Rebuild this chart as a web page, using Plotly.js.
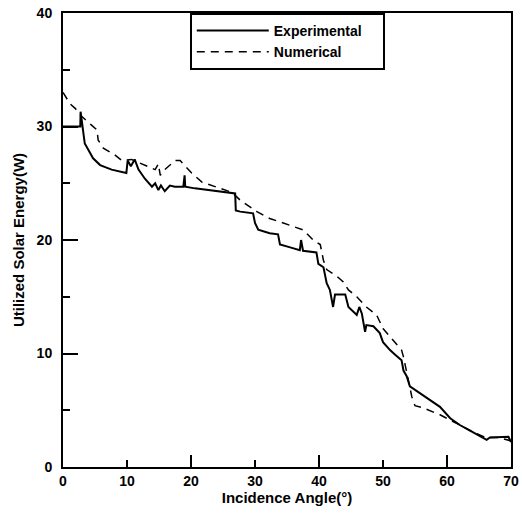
<!DOCTYPE html>
<html>
<head>
<meta charset="utf-8">
<script src="https://cdn.plot.ly/plotly-3.0.1.min.js"></script>
<style>html,body{margin:0;padding:0;background:#fff}#chart{width:522px;height:518px}</style>
</head>
<body>
<div id="chart"></div>
<script>
// Experimental (solid)
const expX = [0, 2.7, 2.75, 3.4, 4.0, 4.7, 5.8, 7.6, 9.9, 10.1, 10.6, 11.2, 11.8, 12.8, 13.9, 14.4, 14.9, 15.3, 15.9, 16.7, 17.5, 18.8, 19.0, 19.1, 20.6, 23.75, 26.9, 27.0, 27.7, 29.7, 30.0, 30.5, 32.3, 33.6, 33.9, 35.5, 37.0, 37.2, 37.5, 39.6, 39.9, 40.7, 40.9, 41.2, 41.7, 42.2, 42.5, 44.1, 44.6, 45.4, 45.9, 46.3, 46.7, 47.2, 47.4, 48.5, 49.5, 50.0, 50.6, 51.1, 51.9, 52.9, 53.2, 53.7, 54.2, 55.8, 57.3, 58.9, 60.5, 62.0, 63.6, 65.2, 66.2, 66.7, 68.3, 69.6, 70.0];
const expY = [30.0, 30.0, 31.3, 28.5, 27.9, 27.2, 26.6, 26.2, 25.9, 27.0, 26.5, 27.1, 26.2, 25.4, 24.7, 25.0, 24.4, 24.8, 24.3, 24.8, 24.7, 24.7, 25.7, 24.7, 24.55, 24.35, 24.1, 22.6, 22.5, 22.35, 21.5, 20.9, 20.6, 20.5, 19.6, 19.35, 19.1, 20.0, 19.05, 18.9, 17.9, 17.6, 16.9, 16.2, 15.6, 14.1, 15.2, 15.2, 14.1, 13.7, 13.4, 14.1, 13.5, 11.9, 12.5, 12.4, 11.8, 11.0, 10.6, 10.3, 9.9, 9.4, 8.5, 8.0, 7.1, 6.5, 5.9, 5.3, 4.3, 3.7, 3.2, 2.7, 2.4, 2.6, 2.67, 2.67, 2.2];
// Numerical (dashed)
const numX = [0, 1.1, 1.9, 2.9, 4.5, 5.3, 5.5, 6.3, 8.1, 9.2, 10.7, 12.8, 14.4, 14.9, 15.2, 15.9, 16.5, 17.5, 18.3, 19.1, 20.1, 21.7, 23.2, 24.8, 26.4, 27.7, 30.3, 32.3, 33.9, 36.0, 37.5, 39.1, 40.2, 40.7, 41.2, 42.8, 43.8, 44.6, 45.9, 47.4, 49.0, 50.0, 51.6, 52.9, 53.2, 54.2, 54.5, 55.0, 56.3, 58.9, 60.0, 62.0, 64.0, 66.0, 68.0, 70.0];
const numY = [33.0, 32.0, 31.6, 30.9, 30.1, 29.7, 28.8, 28.1, 27.5, 27.0, 27.1, 26.6, 26.2, 26.7, 25.7, 26.2, 26.5, 27.0, 27.0, 26.5, 25.9, 25.1, 24.8, 24.5, 24.2, 23.5, 22.5, 21.9, 21.6, 21.2, 20.9, 20.0, 19.6, 18.2, 17.4, 16.8, 16.3, 15.6, 15.0, 14.1, 13.4, 12.2, 11.1, 10.3, 9.7, 6.8, 6.2, 5.4, 5.2, 4.6, 4.3, 3.7, 3.1, 2.6, 2.6, 2.3];
const xTicks = [0, 10, 20, 30, 40, 50, 60, 70];
const yTicks = [0, 10, 20, 30, 40];
const seriesNames = ['Experimental', 'Numerical'];

const F = "Liberation Sans, Arial, sans-serif";
const pad = '\u00a0\u00a0\u00a0\u00a0';
const traces = [
  {x: expX, y: expY, type: 'scatter', mode: 'lines', name: '<b>' + seriesNames[0] + '</b>' + pad,
   line: {color: '#000', width: 2}},
  {x: numX, y: numY, type: 'scatter', mode: 'lines', name: '<b>' + seriesNames[1] + '</b>',
   line: {color: '#000', width: 1.5, dash: '8px,6px'}},
  {x: [0], y: [0], xaxis: 'x2', type: 'scatter', mode: 'none', showlegend: false, hoverinfo: 'skip'}
];
const layout = {
  width: 522, height: 518,
  margin: {l: 63, r: 11, t: 13, b: 51},
  paper_bgcolor: '#fff', plot_bgcolor: '#fff',
  font: {family: F, color: '#000', size: 13},
  showlegend: true,
  legend: {x: 0.283, xanchor: 'left', y: 1, yanchor: 'top', bgcolor: '#fff',
           bordercolor: '#000', borderwidth: 2, font: {family: F, size: 14, color: '#000'},
           itemwidth: 72, tracegroupgap: 0},
  xaxis: {range: [0, 70], tickvals: xTicks, ticks: 'inside', ticklen: 7, tickwidth: 2,
          tickcolor: '#000', showline: true, linewidth: 2, linecolor: '#000', mirror: true,
          showgrid: false, zeroline: false,
          tickfont: {family: F, size: 14, color: '#000', weight: 'bold'},
          title: {text: '<b>Incidence Angle(°)</b>', font: {family: F, size: 15, color: '#000'}, standoff: 4}},
  xaxis2: {range: [0, 70], overlaying: 'x', matches: 'x', dtick: 20, tick0: 0, ticks: 'inside', ticklen: 12,
           tickwidth: 2, tickcolor: '#000', showticklabels: false, showgrid: false, zeroline: false, showline: false},
  yaxis: {range: [0, 40], tickvals: yTicks, ticks: 'inside', ticklen: 15, tickwidth: 2,
          tickcolor: '#000', showline: true, linewidth: 2, linecolor: '#000', mirror: true,
          showgrid: false, zeroline: false, ticklabelstandoff: 6,
          minor: {dtick: 5, tick0: 0, ticks: 'inside', ticklen: 7, tickwidth: 2, tickcolor: '#000', showgrid: false},
          tickfont: {family: F, size: 14, color: '#000', weight: 'bold'},
          title: {text: '<b>Utilized Solar Energy(W)</b>', font: {family: F, size: 15, color: '#000'}, standoff: 8}}
};
Plotly.newPlot('chart', traces, layout, {displayModeBar: false, staticPlot: true});
</script>
</body>
</html>
